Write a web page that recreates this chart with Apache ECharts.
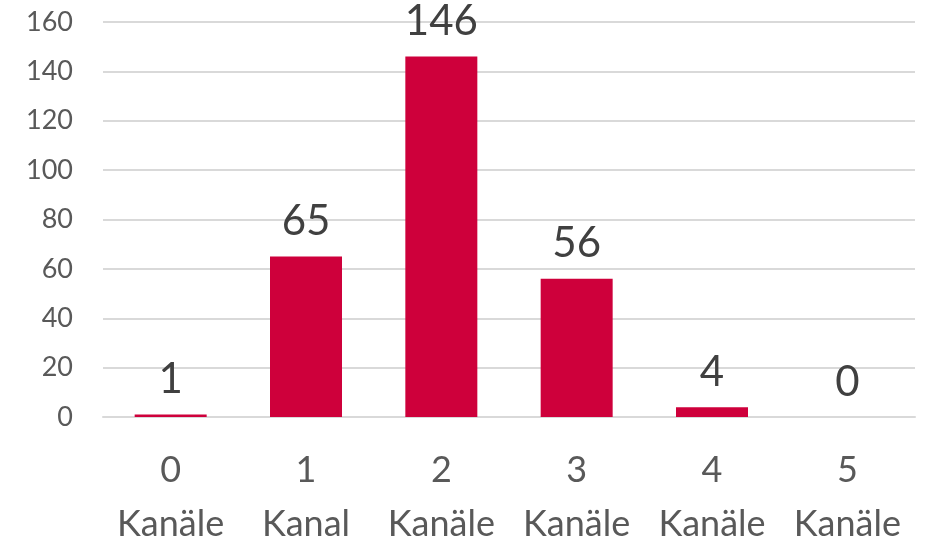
<!DOCTYPE html>
<html>
<head>
<meta charset="utf-8">
<script src="https://cdn.jsdelivr.net/npm/echarts@6/dist/echarts.min.js"></script>
<style>
    html, body { margin: 0; padding: 0; background: #fff; }
    #main { width: 933px; height: 544px; }
</style>
</head>
<body>
<div id="main"></div>
<script>
var categories = ['0\nKanäle', '1\nKanal', '2\nKanäle', '3\nKanäle', '4\nKanäle', '5\nKanäle'];
var counts = [1, 65, 146, 56, 4, 0];
var yTicks = [0, 20, 40, 60, 80, 100, 120, 140, 160];

var myChart = echarts.init(document.getElementById('main'));
var option = {
    animation: false
    , textStyle: {
        fontFamily: 'Lato'
    }
    , grid: {
        left: 103
        , right: 18
        , top: 22
        , bottom: 127
        , containLabel: false
        , outerBoundsMode: 'none'
    }
    , xAxis: {
        type: 'category'
        , data: categories
        , axisLine: {
            show: true
            , lineStyle: {
                color: '#d9d9d9'
                , width: 2
            }
        }
        , axisTick: {
            show: false
        }
        , axisLabel: {
            color: '#595959'
            , fontSize: 36
            , lineHeight: 54
            , margin: 26
            , interval: 0
        }
    }
    , yAxis: {
        type: 'value'
        , min: yTicks[0]
        , max: yTicks[yTicks.length - 1]
        , interval: 20
        , axisLine: {
            show: false
        }
        , axisTick: {
            show: false
        }
        , splitLine: {
            lineStyle: {
                color: '#d9d9d9'
                , width: 2
            }
        }
        , axisLabel: {
            color: '#595959'
            , fontSize: 27
            , margin: 30
        }
    }
    , series: [
        {
            type: 'bar'
            , data: counts
            , barWidth: 72
            , itemStyle: {
                color: '#CE003B'
            }
            , label: {
                show: true
                , position: 'top'
                , distance: 14
                , color: '#404040'
                , fontSize: 42
            }
        }
    ]
};
myChart.setOption(option);
</script>
</body>
</html>
